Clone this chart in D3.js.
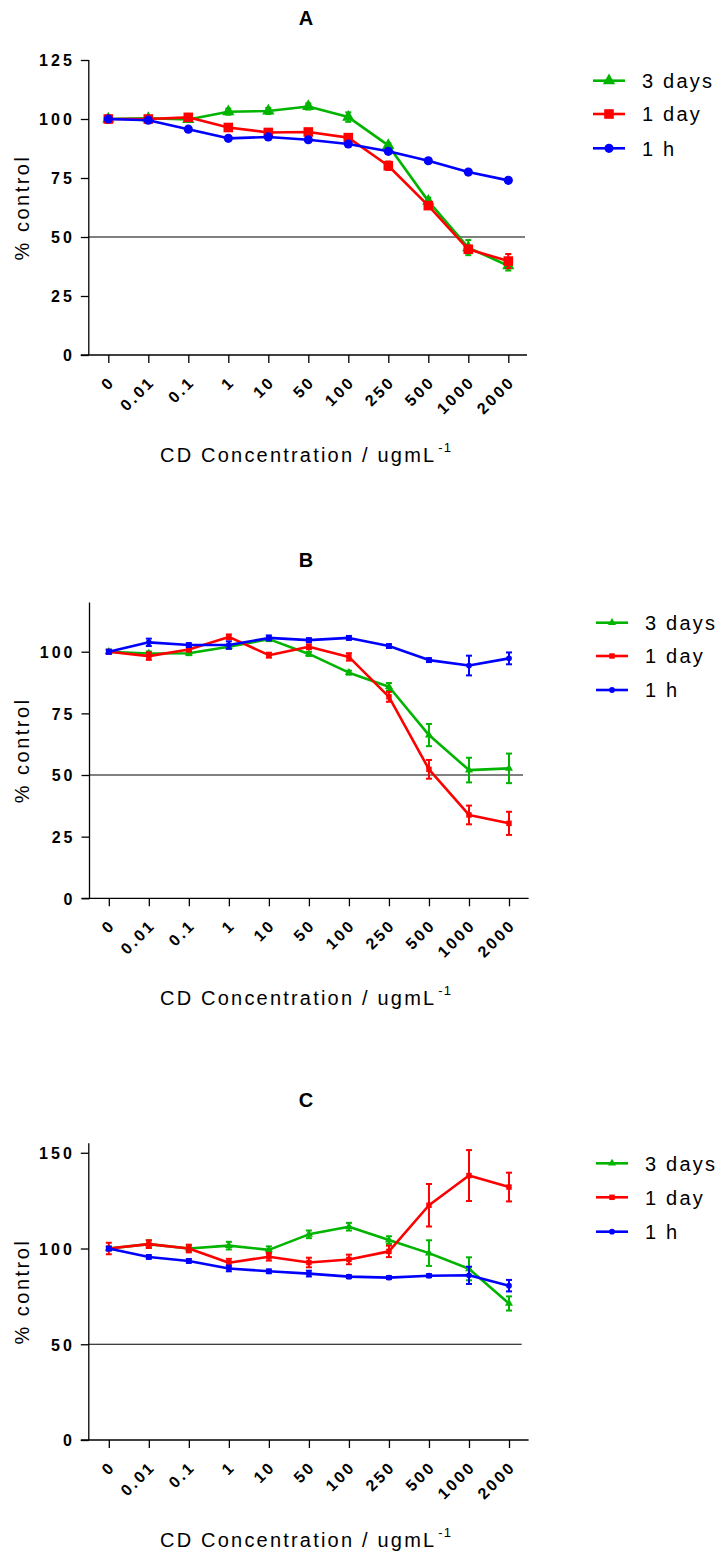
<!DOCTYPE html>
<html>
<head>
<meta charset="utf-8">
<script src="https://cdn.jsdelivr.net/npm/d3@7"></script>
<style>
  html, body { margin: 0; padding: 0; background: #fff; }
  svg { display: block; }
  text { font-family: "Liberation Sans", Arial, sans-serif; fill: #000; }
</style>
</head>
<body>
<svg id="chart" width="717" height="1554"></svg>
<script>
// Concentration categories (x axis)
const categories = ["0", "0.01", "0.1", "1", "10", "50", "100", "250", "500", "1000", "2000"];
const seriesNames = ["3 days", "1 day", "1 h"];
const panelTitles = ["A", "B", "C"];

// Y tick values per panel
const yTicksA = [0, 25, 50, 75, 100, 125];
const yTicksB = [0, 25, 50, 75, 100];
const yTicksC = [0, 50, 100, 150];

// Panel A: mean % control and error
const a3days    = [100, 100.3, 99.8, 103.1, 103.4, 105.3, 100.8, 88.8, 65.2, 45.5, 37.8];
const a3daysErr = [0.8, 0.8, 0.8, 1.3, 1.3, 1.3, 2.0, 1.0, 1.5, 3.2, 2.0];
const a1day     = [100, 100, 100.7, 96.4, 94.3, 94.5, 92.1, 80.2, 63.3, 44.8, 39.8];
const a1dayErr  = [1.5, 1.0, 1.0, 1.0, 1.0, 1.2, 1.0, 1.8, 1.0, 1.5, 3.0];
const a1h       = [100, 99.5, 95.7, 91.8, 92.4, 91.2, 89.4, 86.3, 82.3, 77.5, 74.0];
const a1hErr    = [0.8, 0.8, 0.8, 0.8, 0.8, 0.8, 0.8, 0.8, 0.8, 0.8, 0.8];

// Panel B
const b3days    = [100, 99.3, 99.4, 102, 105.1, 99.1, 91.5, 85.8, 66.2, 52.0, 52.7];
const b3daysErr = [0.8, 0.8, 0.8, 0.8, 0.8, 0.8, 0.8, 1.5, 4.5, 5.0, 6.0];
const b1day     = [100, 98.2, 100.9, 106, 98.6, 102, 97.9, 81.7, 52.3, 33.8, 30.4];
const b1dayErr  = [0.8, 1.5, 0.8, 1.0, 1.0, 1.0, 1.5, 2.0, 3.8, 3.8, 4.7];
const b1h       = [100, 103.8, 102.7, 102.7, 105.6, 104.7, 105.6, 102.3, 96.6, 94.4, 97.3];
const b1hErr    = [0.8, 1.5, 0.8, 1.5, 1.0, 0.8, 0.8, 0.8, 0.8, 4.0, 2.4];

// Panel C
const c3days    = [100, 102.3, 100, 101.5, 99.3, 107.4, 111.4, 104.4, 97.6, 89.4, 71.3];
const c3daysErr = [1.0, 2.0, 1.5, 2.0, 1.8, 2.0, 2.0, 2.0, 6.7, 6.0, 3.7];
const c1day     = [100, 102.3, 100, 92.6, 95.7, 92.7, 94.3, 98.5, 122.6, 138.1, 132.1];
const c1dayErr  = [3.0, 2.0, 2.0, 2.0, 2.0, 2.5, 2.5, 3.0, 11.1, 13.3, 7.5];
const c1h       = [100, 95.6, 93.5, 89.6, 88.1, 86.9, 85.3, 84.8, 85.8, 86.0, 80.6];
const c1hErr    = [1.0, 1.0, 1.0, 1.5, 1.0, 1.5, 0.8, 0.8, 0.8, 4.5, 3.0];

const colors = ["#00b400", "#ff0000", "#0000ff"];
const symbols = [d3.symbolTriangle, d3.symbolSquare, d3.symbolCircle];

const panelData = [
  { values: [a3days, a1day, a1h], errors: [a3daysErr, a1dayErr, a1hErr], ticks: yTicksA },
  { values: [b3days, b1day, b1h], errors: [b3daysErr, b1dayErr, b1hErr], ticks: yTicksB },
  { values: [c3days, c1day, c1h], errors: [c3daysErr, c1dayErr, c1hErr], ticks: yTicksC }
];

// Layout of the three stacked panels
const layout = [
  { top: 60,     bottom: 355,   yMax: 125, axisX: 88.8, x0: 108.3, x1: 508.3, axisEnd: 527,   refEnd: 525,   titleY: 25,   xTitleY: 462,  legX: 593, legY: [80.7, 114, 148.3],      big: true },
  { top: 602.4,  bottom: 898.3, yMax: 120, axisX: 89.5, x0: 108.8, x1: 509,   axisEnd: 528.6, refEnd: 523,   titleY: 567,  xTitleY: 1005, legX: 596, legY: [622.7, 656, 690],       big: false },
  { top: 1143.2, bottom: 1440,  yMax: 155, axisX: 88.8, x0: 108.8, x1: 509,   axisEnd: 528.6, refEnd: 521.7, titleY: 1107, xTitleY: 1547, legX: 596, legY: [1163.3, 1197.3, 1231.7], big: false }
];

const svg = d3.select("#chart");
svg.append("rect").attr("width", 717).attr("height", 1554).attr("fill", "#fff");

function markerSize(i, big) {
  // d3.symbol size is area
  if (big) return [66, 92, 66][i];
  return [28, 30, 26][i];
}

panelData.forEach((pd, p) => {
  const L = layout[p];
  const g = svg.append("g");

  const x = d3.scalePoint().domain(categories).range([L.x0, L.x1]);
  const y = d3.scaleLinear().domain([0, L.yMax]).range([L.bottom, L.top]);

  // Title
  g.append("text")
    .attr("x", 306).attr("y", L.titleY)
    .attr("text-anchor", "middle")
    .attr("font-size", 20).attr("font-weight", "bold")
    .text(panelTitles[p]);

  // Y axis
  const yAxis = d3.axisLeft(y).tickValues(pd.ticks).tickSize(8).tickFormat(d3.format("d"));
  const ya = g.append("g").attr("transform", `translate(${L.axisX},0)`).call(yAxis);
  ya.attr("font-size", null).attr("font-family", null);
  ya.select(".domain").attr("d", `M0,${L.top}V${L.bottom}`).attr("stroke", "#000").attr("stroke-width", 1.3);
  ya.selectAll(".tick line").attr("stroke", "#000").attr("stroke-width", 1.3);
  ya.selectAll(".tick text")
    .style("font-size", "16px").style("font-weight", "bold")
    .attr("letter-spacing", "3px")
    .attr("x", -14).attr("dy", "0.36em").attr("fill", "#000");

  // X axis
  const xAxis = d3.axisBottom(x).tickSize(8).tickSizeOuter(0);
  const xa = g.append("g").attr("transform", `translate(0,${L.bottom})`).call(xAxis);
  xa.attr("font-size", null).attr("font-family", null);
  xa.select(".domain").attr("d", `M${L.axisX - 8},0H${L.axisEnd}`).attr("stroke", "#000").attr("stroke-width", 1.3);
  xa.selectAll(".tick line").attr("stroke", "#000").attr("stroke-width", 1.3);
  xa.selectAll(".tick text")
    .style("font-size", "16px").style("font-weight", "bold")
    .attr("letter-spacing", "2.5px")
    .attr("text-anchor", "end")
    .attr("y", 0).attr("dy", 0)
    .attr("transform", "translate(7,28) rotate(-45)")
    .attr("fill", "#000");

  // Reference line at 50 %
  g.append("line")
    .attr("x1", L.axisX).attr("x2", L.refEnd)
    .attr("y1", y(50)).attr("y2", y(50))
    .attr("stroke", "#000").attr("stroke-width", 1);

  // Y axis title
  g.append("text")
    .attr("transform", `translate(29,${(L.top + L.bottom) / 2}) rotate(-90)`)
    .attr("text-anchor", "middle")
    .attr("font-size", 20)
    .attr("letter-spacing", "2.5px")
    .text("% control");

  // X axis title with superscript
  const xt = g.append("text")
    .attr("x", 306).attr("y", L.xTitleY)
    .attr("text-anchor", "middle")
    .attr("font-size", 20)
    .attr("letter-spacing", "2.2px");
  xt.append("tspan").text("CD Concentration / ugmL");
  xt.append("tspan").attr("dy", -10).attr("dx", 2).attr("font-size", 13).attr("letter-spacing", "1px").text("-1");

  // Series: drawn green, red, blue so blue sits on top
  pd.values.forEach((vals, s) => {
    const errs = pd.errors[s];
    const sg = g.append("g").attr("fill", colors[s]).attr("stroke", colors[s]);
    const pts = vals.map((v, i) => ({ c: categories[i], v, e: errs[i] }));

    sg.append("path")
      .datum(pts)
      .attr("fill", "none")
      .attr("stroke-width", 2.6)
      .attr("stroke-linejoin", "round")
      .attr("d", d3.line().x(d => x(d.c)).y(d => y(d.v)));

    // Error bars
    const eb = sg.selectAll(".eb").data(pts).enter().append("g").attr("class", "eb");
    eb.append("line")
      .attr("x1", d => x(d.c)).attr("x2", d => x(d.c))
      .attr("y1", d => y(d.v + d.e)).attr("y2", d => y(d.v - d.e))
      .attr("stroke-width", 2);
    eb.append("line")
      .attr("x1", d => x(d.c) - 3).attr("x2", d => x(d.c) + 3)
      .attr("y1", d => y(d.v + d.e)).attr("y2", d => y(d.v + d.e))
      .attr("stroke-width", 2);
    eb.append("line")
      .attr("x1", d => x(d.c) - 3).attr("x2", d => x(d.c) + 3)
      .attr("y1", d => y(d.v - d.e)).attr("y2", d => y(d.v - d.e))
      .attr("stroke-width", 2);

    // Markers
    const sym = d3.symbol().type(symbols[s]).size(markerSize(s, L.big));
    sg.selectAll(".mk").data(pts).enter().append("path")
      .attr("class", "mk")
      .attr("stroke", "none")
      .attr("transform", d => `translate(${x(d.c)},${y(d.v)})`)
      .attr("d", sym);
  });

  // Legend
  seriesNames.forEach((name, s) => {
    const ly = L.legY[s];
    const lg = g.append("g");
    lg.append("line")
      .attr("x1", L.legX).attr("x2", L.legX + 32)
      .attr("y1", ly).attr("y2", ly)
      .attr("stroke", colors[s]).attr("stroke-width", 2.6);
    lg.append("path")
      .attr("transform", `translate(${L.legX + 16},${ly})`)
      .attr("fill", colors[s])
      .attr("d", d3.symbol().type(symbols[s]).size(markerSize(s, L.big)));
    lg.append("text")
      .attr("x", L.legX + 49).attr("y", ly).attr("dy", "0.36em")
      .attr("font-size", 20)
      .attr("letter-spacing", "2.2px")
      .text(name);
  });
});
</script>
</body>
</html>
